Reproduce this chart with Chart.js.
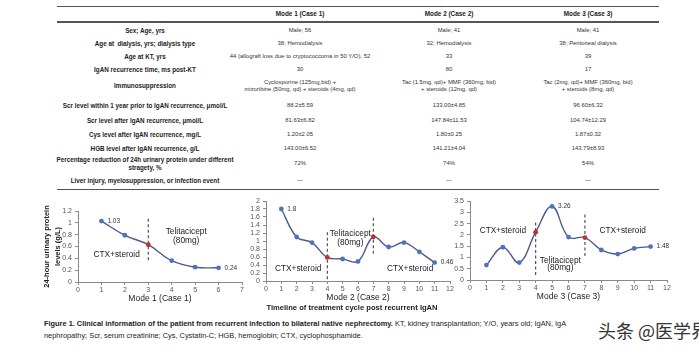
<!DOCTYPE html>
<html><head><meta charset="utf-8">
<script src="https://cdn.jsdelivr.net/npm/chart.js@4.4.1/dist/chart.umd.min.js"></script>
<style>
html,body{margin:0;padding:0;background:#fff;}
body{width:699px;height:351px;position:relative;overflow:hidden;font-family:"Liberation Sans",Arial,sans-serif;}
.t{position:absolute;text-align:center;white-space:pre;transform:translate(-50%,-50%);line-height:1.2;}
.lbl{font-weight:bold;font-size:6.3px;color:#222;}
.val{font-size:5.9px;color:#333;}
.hdr{font-weight:bold;font-size:6.4px;color:#222;}
.rule{position:absolute;left:57px;width:602px;background:#555;}
canvas{position:absolute;}
#timeline{position:absolute;left:352px;top:307px;transform:translate(-50%,-50%);font-weight:bold;font-size:7.6px;color:#222;white-space:nowrap;}
#caption{position:absolute;left:44px;top:318px;font-size:7.4px;line-height:12px;color:#222;white-space:nowrap;}
#wm{position:absolute;left:598px;top:317px;font-family:"Noto Sans CJK SC",sans-serif;font-size:18px;color:#333;white-space:nowrap;text-shadow:0 0 2px #fff,0 0 2px #fff;}
</style></head><body>
<div id="table"></div>
<canvas id="c1" width="222" height="100" style="left:30px;top:203px;width:222px;height:100px"></canvas>
<canvas id="c2" width="222" height="109" style="left:238px;top:193px;width:222px;height:109px"></canvas>
<canvas id="c3" width="232" height="108" style="left:445px;top:193px;width:232px;height:108px"></canvas>
<div id="timeline">Timeline of treatment cycle post recurrent IgAN</div>
<div id="caption"><b>Figure 1. Clinical information of the patient from recurrent infection to bilateral native nephrectomy.</b> KT, kidney transplantation; Y/O, years old; IgAN, IgA<br>nephropathy; Scr, serum creatinine; Cys, Cystatin-C; HGB, hemoglobin; CTX, cyclophosphamide.</div>
<div id="wm">头条 @医学界</div>
<script>
// ---------- table data ----------
const headers = ["Mode 1 (Case 1)", "Mode 2 (Case 2)", "Mode 3 (Case 3)"];
const rowLabels = [
  "Sex; Age, yrs",
  "Age at  dialysis, yrs; dialysis type",
  "Age at KT, yrs",
  "IgAN recurrence time, ms post-KT",
  "Immunosuppression",
  "Scr level within 1 year prior to IgAN recurrence, μmol/L",
  "Scr level after IgAN recurrence, μmol/L",
  "Cys level after IgAN recurrence, mg/L",
  "HGB level after IgAN recurrence, g/L",
  "Percentage reduction of 24h urinary protein under different\nstragety, %",
  "Liver injury, myelosuppression, or infection event"
];
const mode1Vals = ["Male; 56", "38; Hemodialysis", "44 (allograft loss due to cryptococcoma in 50 Y/O), 52", "30",
  "Cyclosporine (125mg,bid) +\nmizoribine (50mg, qd) + steroids (4mg, qd)", "88.2±5.59", "81.63±6.82", "1.20±2.05", "143.00±6.52", "72%", "—"];
const mode2Vals = ["Male; 41", "32; Hemodialysis", "33", "80",
  "Tac (1.5mg, qd)+ MMF (360mg, bid)\n+ steroids (12mg, qd)", "133.00±4.85", "147.84±11.53", "1.80±0.25", "141.21±4.04", "74%", "—"];
const mode3Vals = ["Male; 41", "38; Peritoneal dialysis", "39", "17",
  "Tac (2mg, qd)+ MMF (360mg, bid)\n+ steroids (8mg, qd)", "96.60±6.32", "104.74±12.29", "1.87±0.32", "143.79±8.93", "54%", "—"];

// ---------- chart data ----------
const cycles1 = [1, 2, 3, 4, 5, 6];
const protein1 = [1.03, 0.79, 0.63, 0.36, 0.25, 0.24];
const switch1 = [3];
const cycles2 = [1, 2, 3, 4, 5, 6, 7, 8, 9, 10, 11];
const protein2 = [1.8, 1.1, 0.96, 0.59, 0.55, 0.49, 1.1, 0.85, 0.96, 0.73, 0.46];
const switch2 = [4, 7];
const cycles3 = [1, 2, 3, 4, 5, 6, 7, 8, 9, 10, 11];
const protein3 = [0.66, 1.45, 0.77, 2.12, 3.26, 1.9, 1.88, 1.33, 1.15, 1.4, 1.48];
const switch3 = [4, 7];
const axisTitles = ["Mode 1 (Case 1)", "Mode 2 (Case 2)", "Mode 3 (Case 3)"];
const yTitle = ["24-hour urinary protein", "levels (g/L)"];

// ---------- table layout ----------
const tbl = document.getElementById('table');
const colX = [145, 300, 449, 588];
const rowY = [31, 44, 57, 70, 86, 106, 121, 135, 149, 164, 181];
function addText(cls, txt, x, y) {
  const d = document.createElement('div');
  d.className = 't ' + cls; d.textContent = txt;
  d.style.left = x + 'px'; d.style.top = y + 'px';
  tbl.appendChild(d);
}
headers.forEach((h, i) => addText('hdr', h, colX[i + 1], 14));
rowLabels.forEach((l, i) => {
  addText('lbl', l, colX[0], rowY[i]);
  addText('val', mode1Vals[i], colX[1], rowY[i]);
  addText('val', mode2Vals[i], colX[2], rowY[i]);
  addText('val', mode3Vals[i], colX[3], rowY[i]);
});
[[6, 1], [21, 2], [188.5, 1.5]].forEach(([y, h]) => {
  const r = document.createElement('div'); r.className = 'rule';
  r.style.top = y + 'px'; r.style.height = h + 'px'; tbl.appendChild(r);
});

// ---------- charts ----------
const LINE = '#475b90', PT = '#4f72b8', RED = '#c0322b', TXT = '#222', TICK = '#555', AX = '#8a8a8a';
const notesPlugin = {
  id: 'notes',
  afterDatasetsDraw(chart, args, opts) {
    const ctx = chart.ctx, xs = chart.scales.x, ys = chart.scales.y;
    ctx.save();
    (opts.items || []).forEach(it => {
      ctx.font = (it.size || 8.3) + 'px "Liberation Sans", Arial, sans-serif';
      ctx.fillStyle = it.color || TXT;
      ctx.textAlign = it.align || 'center';
      ctx.textBaseline = 'middle';
      ctx.fillText(it.text, xs.getPixelForValue(it.x) + (it.dx || 0), ys.getPixelForValue(it.y));
    });
    ctx.restore();
  }
};

function buildChart(id, cycles, values, switches, xMax, yMax, yStep, cfg) {
  const pts = cycles.map((c, i) => ({x: c, y: values[i]}));
  const colors = cycles.map(c => switches.includes(c) ? RED : PT);
  const dashSets = cfg.dashes.map(([x, y0, y1]) => ({
    data: [{x, y: y0}, {x, y: y1}], borderColor: '#444', borderWidth: 1.1, borderDash: [3, 2.5],
    pointRadius: 0, tension: 0, order: 2
  }));
  const valueNotes = cfg.valueLabels.map(i => ({text: String(values[i]), x: cycles[i], y: values[i], align: 'left', dx: 6, size: 6.5, color: '#333'}));
  return new Chart(document.getElementById(id), {
    type: 'line',
    data: {datasets: [{
      data: pts, borderColor: LINE, borderWidth: 1.4, tension: 0.4,
      pointRadius: 2.4, pointBackgroundColor: colors, pointBorderColor: colors, pointBorderWidth: 0, order: 1
    }, ...dashSets]},
    options: {
      responsive: false, animation: false, events: [],
      layout: {padding: {left: 0, right: cfg.padR, top: cfg.padT, bottom: 0}},
      plugins: {legend: {display: false}, tooltip: {enabled: false}, notes: {items: cfg.notes.concat(valueNotes)}},
      scales: {
        x: {
          type: 'linear', min: 0, max: xMax,
          ticks: {stepSize: 1, autoSkip: false, font: {size: 7, family: '"Liberation Sans", Arial'}, color: TICK, padding: 1, maxRotation: 0},
          grid: {drawOnChartArea: false, tickLength: 3, color: AX},
          border: {color: AX},
          title: {display: true, text: cfg.xTitle, font: {size: 8.5, family: '"Liberation Sans", Arial', lineHeight: 1.1}, color: TXT, padding: 0},
          afterFit(s) { s.height = 21; }
        },
        y: {
          min: 0, max: yMax,
          ticks: {stepSize: yStep, autoSkip: false, font: {size: 7, family: '"Liberation Sans", Arial'}, color: TICK, padding: 3,
            callback: v => String(+v.toFixed(1))},
          grid: {drawOnChartArea: false, tickLength: 3, color: AX},
          border: {color: AX},
          title: cfg.yTitle ? {display: true, text: cfg.yTitle, font: {size: 7.5, weight: 'bold', family: '"Liberation Sans", Arial', lineHeight: 1.5}, color: TXT, padding: {top: 11, bottom: 0}} : {display: false},
          afterFit(s) { s.width = cfg.yW; }
        }
      }
    },
    plugins: [notesPlugin]
  });
}

buildChart('c1', cycles1, protein1, switch1, 7, 1.2, 0.2, {
  padR: 10, padT: 8, yW: 48, xTitle: axisTitles[0], yTitle: yTitle,
  dashes: [[3, 1.07, 0.34]],
  valueLabels: [0, 5],
  notes: [
    {text: 'Telitacicept', x: 4.62, y: 0.85},
    {text: '(80mg)', x: 4.62, y: 0.7},
    {text: 'CTX+steroid', x: 1.65, y: 0.46}
  ]
});
buildChart('c2', cycles2, protein2, switch2, 12, 2, 0.2, {
  padR: 10, padT: 8, yW: 28, xTitle: axisTitles[1],
  dashes: [[4, 1.22, 0], [7, 1.58, 0.65]],
  valueLabels: [0, 10],
  notes: [
    {text: 'Telitacicept', x: 5.5, y: 1.17},
    {text: '(80mg)', x: 5.5, y: 0.95},
    {text: 'CTX+steroid', x: 2.1, y: 0.3},
    {text: 'CTX+steroid', x: 9.4, y: 0.3}
  ]
});
buildChart('c3', cycles3, protein3, switch3, 12, 3.5, 0.5, {
  padR: 10, padT: 8, yW: 25, xTitle: axisTitles[2],
  dashes: [[4, 2.55, 0.13], [7, 2.9, 1.0]],
  valueLabels: [4, 10],
  notes: [
    {text: 'CTX+steroid', x: 2.0, y: 2.2},
    {text: 'CTX+steroid', x: 9.3, y: 2.2},
    {text: 'Telitacicept', x: 5.5, y: 0.86},
    {text: '(80mg)', x: 5.5, y: 0.53}
  ]
});
</script>
</body></html>
